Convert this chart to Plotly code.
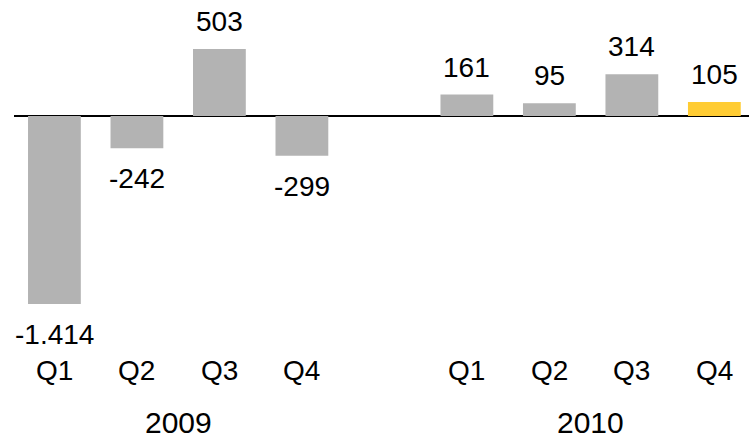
import plotly.graph_objects as go

# Quarterly results, 2009 and 2010
years = ["2009", "2010"]
quarters = ["Q1", "Q2", "Q3", "Q4"]
values_2009 = [-1414, -242, 503, -299]
values_2010 = [161, 95, 314, 105]
value_labels_2009 = ["-1.414", "-242", "503", "-299"]
value_labels_2010 = ["161", "95", "314", "105"]

GREY = "#b3b3b3"
YELLOW = "#ffcc33"
FONT = "Liberation Sans, Arial, sans-serif"

# slot positions: one empty slot between the two years
x_2009 = [0, 1, 2, 3]
x_2010 = [5, 6, 7, 8]

xs = x_2009 + x_2010
vals = values_2009 + values_2010
labels = value_labels_2009 + value_labels_2010
colors = [GREY] * 7 + [YELLOW]

fig = go.Figure()
fig.add_trace(go.Bar(
    x=xs, y=vals, width=0.64,
    marker=dict(color=colors, line=dict(width=0)),
    hoverinfo="skip",
))

annotations = []
for x, v, t in zip(xs, vals, labels):
    if v >= 0:
        annotations.append(dict(x=x, y=v, text=t, showarrow=False,
                                xanchor="center", yanchor="bottom", yshift=10,
                                font=dict(family=FONT, size=28, color="black")))
    else:
        annotations.append(dict(x=x, y=v, text=t, showarrow=False,
                                xanchor="center", yanchor="top", yshift=-13,
                                font=dict(family=FONT, size=28, color="black")))

for group in (x_2009, x_2010):
    for x, q in zip(group, quarters):
        annotations.append(dict(x=x, y=0.159, yref="paper", text=q, showarrow=False,
                                xanchor="center", yanchor="middle",
                                font=dict(family=FONT, size=28, color="black")))

# year labels sit on the bottom edge of the figure
for group, yr in zip((x_2009, x_2010), years):
    annotations.append(dict(x=(group[0] + group[-1]) / 2, y=0, yref="paper",
                            text=yr, showarrow=False, xanchor="center", yanchor="bottom",
                            borderpad=0,
                            font=dict(family=FONT, size=30, color="black")))

fig.update_layout(
    width=749, height=440,
    margin=dict(l=14, r=0, t=0, b=0),
    paper_bgcolor="white", plot_bgcolor="white",
    showlegend=False,
    xaxis=dict(range=[-0.49, 8.42], showgrid=False, zeroline=False,
               showticklabels=False, ticks="", fixedrange=True),
    yaxis=dict(range=[-2436, 872], showgrid=False, zeroline=True,
               zerolinecolor="black", zerolinewidth=2,
               showticklabels=False, ticks="", fixedrange=True),
    annotations=annotations,
)

fig.write_html("out.html")
